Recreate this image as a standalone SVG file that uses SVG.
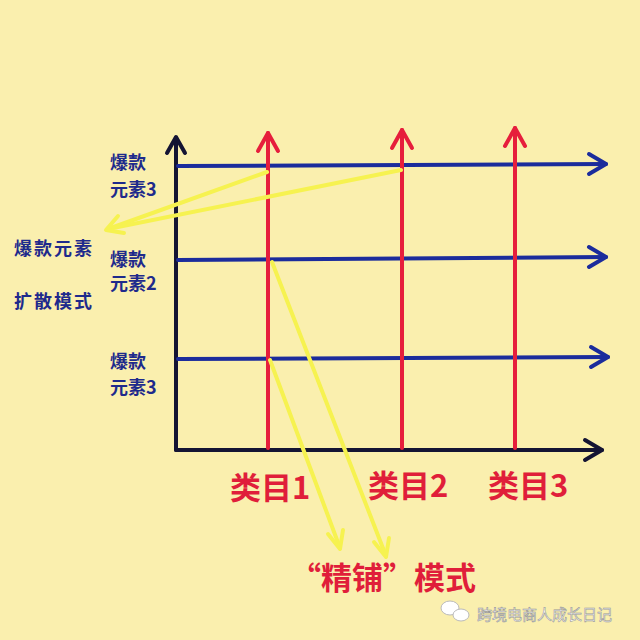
<svg xmlns="http://www.w3.org/2000/svg" width="640" height="640" viewBox="0 0 640 640">
<style>
.ax{stroke:#141433;stroke-width:4;fill:none;stroke-linecap:round;stroke-linejoin:round}
.bl{stroke:#1b2c9c;stroke-width:4;fill:none;stroke-linecap:round;stroke-linejoin:round}
.rd{stroke:#e61e3c;stroke-width:4;fill:none;stroke-linecap:round;stroke-linejoin:round}
.yl{stroke:#f6f250;stroke-width:4;fill:none;stroke-linecap:round;stroke-linejoin:round}
.lb{font-family:"Noto Sans CJK SC","Noto Sans",sans-serif;font-weight:bold;fill:#1e2a8c;font-size:18px}
.rt{font-family:"Noto Sans CJK SC","Noto Sans",sans-serif;font-weight:bold;fill:#e01e3a;font-size:31px}
</style>
<rect width="640" height="640" fill="#faefae"/>
<g id="connectors">
<g id="axes">
<line class="ax" x1="176" y1="450" x2="176" y2="138"/>
<polyline class="ax" points="167,153 176,137 185,153"/>
<line class="ax" x1="176" y1="450" x2="602" y2="450"/>
<polyline class="ax" points="585,440 602,450 585,460"/>
</g>
<g id="blue">
<line class="bl" x1="178" y1="166" x2="606" y2="164"/>
<polyline class="bl" points="589,154 606,164 589,174"/>
<line class="bl" x1="178" y1="260" x2="606" y2="257"/>
<polyline class="bl" points="589,247 606,257 589,267"/>
<line class="bl" x1="178" y1="359" x2="608" y2="357"/>
<polyline class="bl" points="591,347 608,357 591,367"/>
</g>
<g id="red">
<line class="rd" x1="268" y1="448" x2="268" y2="133"/>
<polyline class="rd" points="258,151 268,133 278,151"/>
<line class="rd" x1="402" y1="448" x2="402" y2="130"/>
<polyline class="rd" points="392,148 402,130 412,148"/>
<line class="rd" x1="515" y1="448" x2="515" y2="128"/>
<polyline class="rd" points="505,146 515,128 525,146"/>
</g>
<g id="yellow">
<line class="yl" x1="267" y1="172" x2="108" y2="229"/>
<line class="yl" x1="401" y1="170" x2="108" y2="229"/>
<polyline class="yl" points="118,216 106,230 124,233"/>
<line class="yl" x1="272" y1="262" x2="386" y2="556"/>
<polyline class="yl" points="374,542 386,557 389,538"/>
<line class="yl" x1="270" y1="360" x2="340" y2="548"/>
<polyline class="yl" points="328,534 340,549 343,530"/>
</g>
</g>
<g id="label-row3"><text class="lb" x="110" y="169">爆款</text><text class="lb" x="110" y="196">元素3</text></g>
<g id="label-row2"><text class="lb" x="110" y="266">爆款</text><text class="lb" x="110" y="290">元素2</text></g>
<g id="label-row1"><text class="lb" x="110" y="368">爆款</text><text class="lb" x="110" y="394">元素3</text></g>
<g id="label-spread"><text class="lb" x="14" y="255" letter-spacing="2">爆款元素</text><text class="lb" x="14" y="308" letter-spacing="2">扩散模式</text></g>
<g id="cat1"><text class="rt" x="230" y="499">类目1</text></g>
<g id="cat2"><text class="rt" x="368" y="497">类目2</text></g>
<g id="cat3"><text class="rt" x="488" y="497">类目3</text></g>
<g id="mode"><text class="rt" x="290" y="589">“精铺”模式</text></g>
<g id="watermark">
<ellipse cx="450" cy="608" rx="9" ry="7" fill="#fff" stroke="#bbb"/>
<ellipse cx="461" cy="615" rx="8" ry="6" fill="#fff" stroke="#bbb"/>
<text x="477" y="620" font-family="'Noto Sans CJK SC',sans-serif" font-size="15" fill="#fff" stroke="#999" stroke-width="0.6">跨境电商人成长日记</text>
</g>
</svg>
